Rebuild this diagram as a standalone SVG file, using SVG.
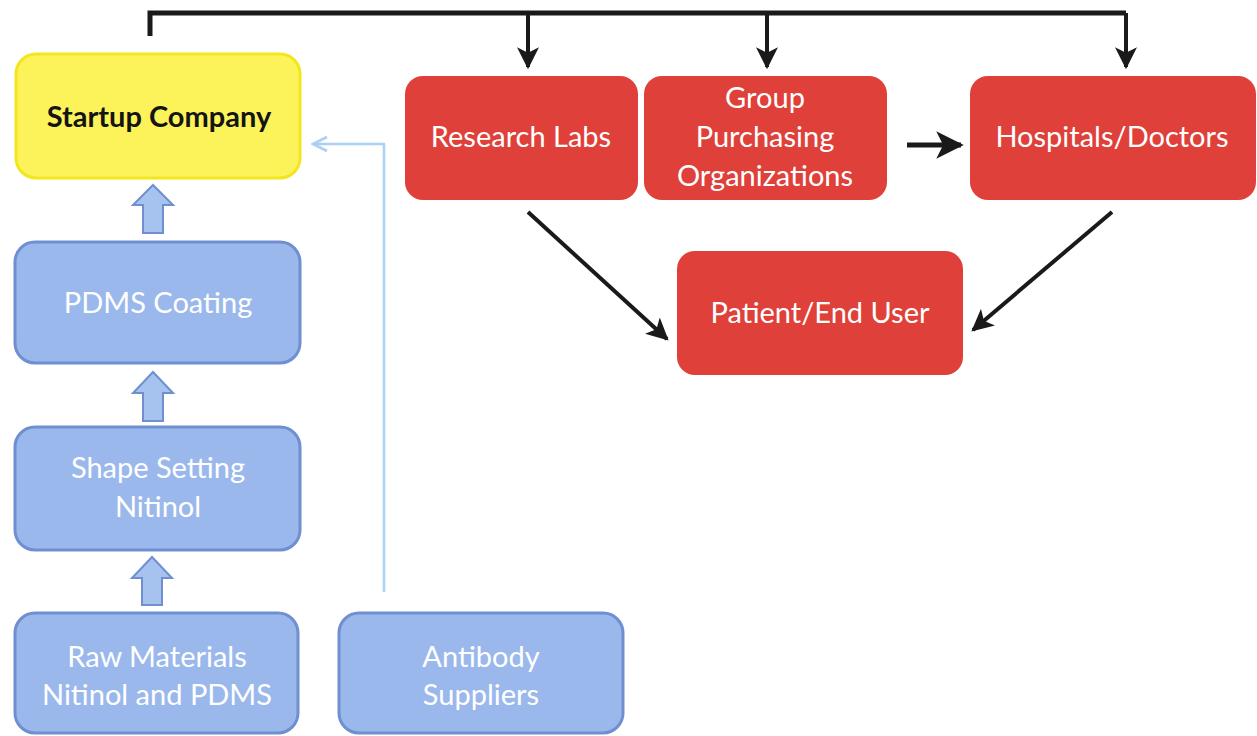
<svg xmlns="http://www.w3.org/2000/svg" width="1257" height="736" viewBox="0 0 1257 736">
<defs>
<style>
.txt{font-family:Lato,"Open Sans","Liberation Sans",sans-serif;font-size:29px;text-anchor:middle;fill:#ffffff}
.dark{fill:#141414;font-weight:bold}
.red{fill:#e0403a}
.blue{fill:#9bb8ec;stroke:#6f8fd0;stroke-width:3}
.yellow{fill:#fcf35a;stroke:#f3e51e;stroke-width:3}
.blk{fill:none;stroke:#1a1a1a;stroke-width:5}
.blkthin{fill:none;stroke:#1a1a1a;stroke-width:4}
.lb{fill:none;stroke:#a9d0f5;stroke-width:2.5}
.barrow{fill:#a6c2ef;stroke:#6f8fd0;stroke-width:2}
</style>
<marker id="ah" viewBox="0 0 10 10" refX="9" refY="5" markerWidth="5.5" markerHeight="5.5" orient="auto" markerUnits="strokeWidth">
<path d="M0,0 L10,5 L0,10 L2.5,5 z" fill="#1a1a1a"/>
</marker>
<marker id="ahlb" viewBox="0 0 10 10" refX="9" refY="5" markerWidth="7" markerHeight="7" orient="auto" markerUnits="strokeWidth">
<path d="M1,1 L9,5 L1,9" fill="none" stroke="#a9d0f5" stroke-width="1.5"/>
</marker>
</defs>
<rect width="1257" height="736" fill="#ffffff"/>

<g id="connectors">
<path class="blk" d="M150,36 L150,13 L1126,13"/>
<path class="blkthin" d="M528,13 L528,67" marker-end="url(#ah)"/>
<path class="blkthin" d="M767,13 L767,67" marker-end="url(#ah)"/>
<path class="blkthin" d="M1126,13 L1126,67" marker-end="url(#ah)"/>
<path class="blk" d="M907,145 L961,145" marker-end="url(#ah)"/>
<path class="blkthin" d="M528,212 L667,339" marker-end="url(#ah)"/>
<path class="blkthin" d="M1112,212 L973,330" marker-end="url(#ah)"/>
<path class="lb" d="M384,592 L384,144 L313,144" marker-end="url(#ahlb)"/>
<path class="barrow" d="M153,185 L173,205 L163,205 L163,233 L143,233 L143,205 L133,205 Z"/>
<path class="barrow" d="M153,372 L173,393 L163,393 L163,421 L143,421 L143,393 L133,393 Z"/>
<path class="barrow" d="M152,557 L172,578 L162,578 L162,605 L142,605 L142,578 L132,578 Z"/>
</g>

<g id="startup">
<rect class="yellow" x="16" y="54" width="284" height="124" rx="20"/>
<text class="txt dark" x="159" y="127">Startup Company</text>
</g>
<g id="pdms">
<rect class="blue" x="15" y="242" width="285" height="121" rx="20"/>
<text class="txt" x="158" y="313">PDMS Coating</text>
</g>
<g id="shape">
<rect class="blue" x="15" y="427" width="285" height="123" rx="20"/>
<text class="txt" x="158" y="478">Shape Setting</text>
<text class="txt" x="158" y="517">Nitinol</text>
</g>
<g id="raw">
<rect class="blue" x="15" y="613" width="283" height="120" rx="20"/>
<text class="txt" x="157" y="667">Raw Materials</text>
<text class="txt" x="157" y="705">Nitinol and PDMS</text>
</g>
<g id="antibody">
<rect class="blue" x="339" y="613" width="284" height="120" rx="20"/>
<text class="txt" x="481" y="667">Antibody</text>
<text class="txt" x="481" y="705">Suppliers</text>
</g>
<g id="research">
<rect class="red" x="405" y="76" width="233" height="124" rx="18"/>
<text class="txt" x="521" y="147">Research Labs</text>
</g>
<g id="gpo">
<rect class="red" x="644" y="76" width="243" height="124" rx="18"/>
<text class="txt" x="765" y="108">Group</text>
<text class="txt" x="765" y="147">Purchasing</text>
<text class="txt" x="765" y="186">Organizations</text>
</g>
<g id="hospitals">
<rect class="red" x="970" y="76" width="286" height="124" rx="18"/>
<text class="txt" x="1112" y="147">Hospitals/Doctors</text>
</g>
<g id="patient">
<rect class="red" x="677" y="251" width="286" height="124" rx="18"/>
<text class="txt" x="820" y="323">Patient/End User</text>
</g>
</svg>
